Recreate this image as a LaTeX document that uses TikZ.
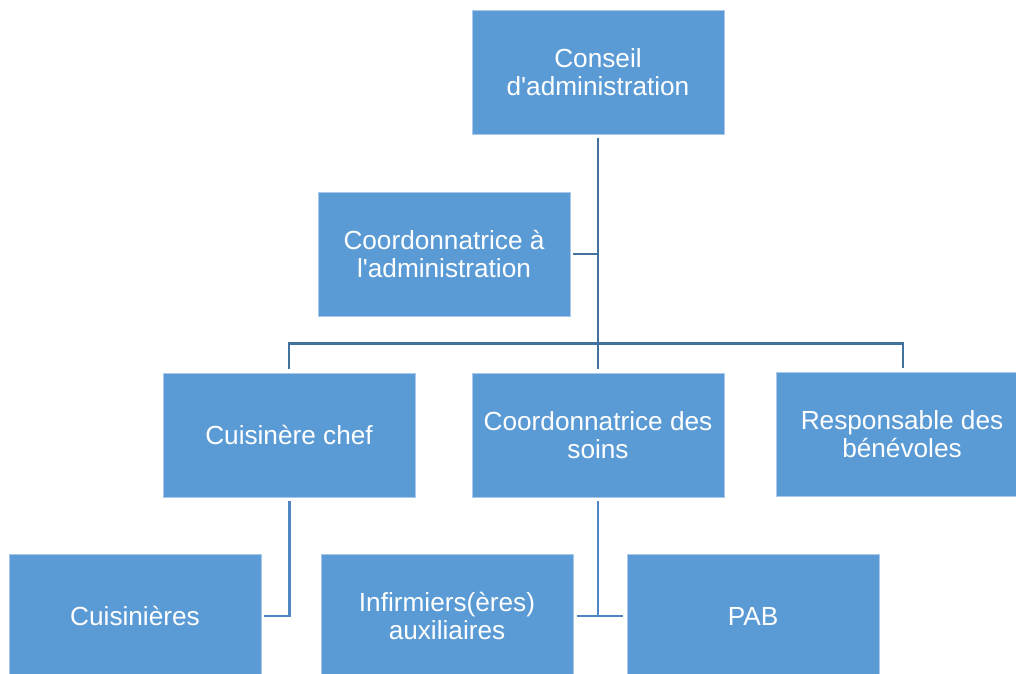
\documentclass[tikz,border=0pt]{standalone}
\usepackage{fontspec}
\setmainfont{Liberation Sans}
\definecolor{boxfill}{HTML}{5B9BD5}
\definecolor{boxedge}{HTML}{A9C8EA}
\definecolor{linedark}{HTML}{41719C}
\definecolor{linelight}{HTML}{4F86C3}
\begin{document}
\begin{tikzpicture}[x=1pt,y=-1pt,
  orgbox/.style={rectangle, fill=boxfill, draw=boxedge, line width=0.6pt,
    minimum width=252pt, minimum height=124pt, inner sep=0pt, align=center,
    text=white, font=\fontsize{26.2}{27.8}\selectfont},
  upper/.style={draw=linedark, line width=2.2pt},
  lower/.style={draw=linelight, line width=2.2pt}]
\useasboundingbox (0,0) rectangle (1016,673);
\node[orgbox] (ca) at (598,72.5) {Conseil\\d\textquotesingle administration};
\node[orgbox] (coad) at (444,254) {Coordonnatrice à\\l\textquotesingle administration};
\node[orgbox] (chef) at (289,435) {Cuisinère chef};
\node[orgbox] (soins) at (598,435) {Coordonnatrice des\\soins};
\node[orgbox] (benev) at (902,434) {Responsable des\\bénévoles};
\node[orgbox] (cuis) at (135,616) {Cuisinières};
\node[orgbox] (inf) at (447,616) {Infirmiers(ères)\\auxiliaires};
\node[orgbox] (pab) at (753,616) {PAB};
\coordinate (bus) at (598,343.5);
\coordinate (junA) at (598,254);
\coordinate (junB) at (289.5,616);
\coordinate (junC) at (598,616);
% upper connectors
\draw[upper] ([yshift=-3pt]ca.south) -- (bus);
\draw[upper] ([xshift=3pt]coad.east) -- (junA);
\draw[upper, shorten >=4pt] (bus) -| (chef.north);
\draw[upper, shorten >=4pt] (bus) -| ([xshift=1pt]benev.north);
\draw[upper, shorten >=4pt] (bus) -- (soins.north);
% lower connectors
\draw[lower] ([xshift=0.5pt,yshift=-4pt]chef.south) -- (junB) -- ([xshift=3pt]cuis.east);
\draw[lower] ([yshift=-4pt]soins.south) -- (junC);
\draw[lower] ([xshift=3.5pt]inf.east) -- ([xshift=-3.5pt]pab.west);
\end{tikzpicture}
\end{document}
